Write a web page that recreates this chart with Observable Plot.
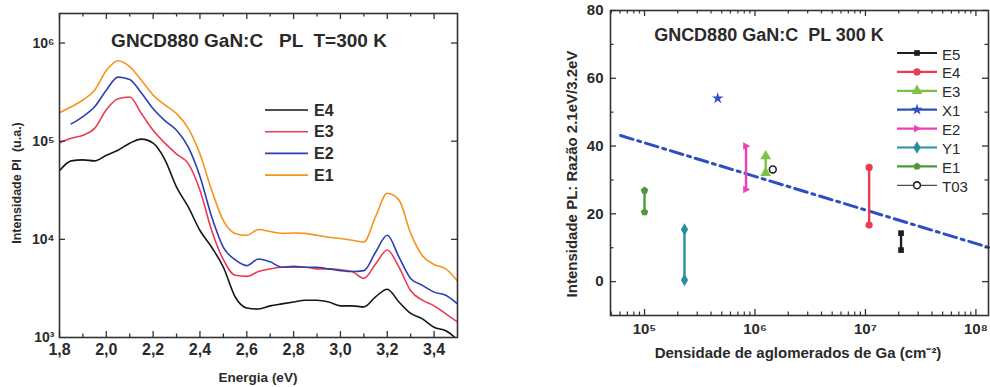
<!DOCTYPE html>
<html><head><meta charset="utf-8">
<script src="https://cdn.jsdelivr.net/npm/d3@7"></script>
<script src="https://cdn.jsdelivr.net/npm/@observablehq/plot@0.6"></script>
<style>
body{margin:0;background:#fff;width:990px;height:387px;overflow:hidden;font-family:"Liberation Sans",Arial,sans-serif;}
#root{position:relative;width:990px;height:387px;}
.panel{position:absolute;top:0;}
#overlay{position:absolute;left:0;top:0;pointer-events:none;}
</style></head><body><div id="root"></div>
<script>
// ---------- Left panel data: PL spectra ----------
const energy = [1.80,1.85,1.90,1.95,2.00,2.05,2.10,2.15,2.20,2.25,2.30,2.35,2.40,2.45,2.50,2.55,2.60,2.65,2.70,2.75,2.80,2.85,2.90,2.95,3.00,3.05,3.10,3.15,3.20,3.25,3.30,3.35,3.40,3.45,3.50];
const specNames = ["E4","E3","E2","E1"];
const intensE4 = [50000,63000,64500,63000,72000,81000,95500,105000,95500,65000,34000,21400,12300,8300,5200,2600,2000,1950,2100,2200,2300,2400,2400,2300,2100,2100,2050,2600,3100,2300,1760,1550,1270,1170,950];
const intensE3 = [96000,107000,115000,135000,209000,270000,282000,191000,129000,95500,74000,59000,31600,12300,6200,4300,4200,4700,5000,5200,5200,5200,5000,5000,4900,4700,4000,5600,7800,5200,3000,2400,2100,1740,1440];
const intensE2 = [null,150000,178000,224000,331000,450000,425000,309000,214000,162000,129000,87000,43700,17000,8300,6200,5400,6300,5900,5200,5300,5200,5200,5000,4800,4700,4800,7400,11000,6600,4000,3400,2900,2700,2200];
const intensE1 = [195000,224000,263000,331000,525000,661000,575000,417000,295000,234000,191000,135000,74000,31600,15500,11500,11000,12600,12000,11500,11600,11500,11000,10500,10200,9800,9400,17000,29500,25100,11500,6800,5550,5000,3760];
const energyTicks = [1.8,2.0,2.2,2.4,2.6,2.8,3.0,3.2,3.4];
const intensTicks = [1e3,1e4,1e5,1e6];

// ---------- Right panel data: ratio vs Ga cluster density ----------
const sampleNames = ["E5","E4","E3","X1","E2","Y1","E1","T03"];
const density   = [2.1e7,1.08e7,1.25e6,4.6e5,8.3e5,2.3e5,1.0e5,1.45e6];
const ratioLow  = [9.3,16.7,32.1,54.1,27.2,0.5,20.5,33.1];
const ratioHigh = [14.3,33.7,37.0,54.1,40.0,15.4,26.9,33.1];
const fitDensity = [6.07e4,1.3e8];
const fitRatio   = [43.1,10.1];
const ratioTicks = [0,20,40,60,80];
const densityTicks = [1e5,1e6,1e7,1e8];

// ---------- styles ----------
const specColors = {E4:"#161616",E3:"#ea3a55",E2:"#2b3fb5",E1:"#f7931e"};
const symRight = {draw(ctx,size){const r=Math.sqrt(size/Math.PI);ctx.moveTo(r*1.15,0);ctx.lineTo(-r*0.8,-r*1.05);ctx.lineTo(-r*0.8,r*1.05);ctx.closePath();}};
const symPent = {draw(ctx,size){const r=Math.sqrt(size/Math.PI)*1.1;for(let i=0;i<5;i++){const a=-Math.PI/2+i*2*Math.PI/5;const x=r*Math.cos(a),y=r*Math.sin(a);i?ctx.lineTo(x,y):ctx.moveTo(x,y);}ctx.closePath();}};
const sampleStyle = {
  E5:{color:"#1e1e1e",symbol:"square",r:3.2,lw:2.2},
  E4:{color:"#ee3b55",symbol:"circle",r:3.6,lw:2.2},
  E3:{color:"#7cc243",symbol:"triangle",r:4,lw:2.2},
  X1:{color:"#2f4fc2",symbol:"star",r:3.6,lw:2.2},
  E2:{color:"#ee40b5",symbol:symRight,r:3.6,lw:2.2},
  Y1:{color:"#2a8ea3",symbol:"diamond",r:3.8,lw:2.2},
  E1:{color:"#4c9a3c",symbol:symPent,r:3.6,lw:2.2},
  T03:{color:"#222",symbol:"circle",r:3.4,lw:1}
};
const supMap = {"-":"⁻","0":"⁰","1":"¹","2":"²","3":"³","4":"⁴","5":"⁵","6":"⁶","7":"⁷","8":"⁸","9":"⁹"};
const pow10 = d => "10" + String(Math.round(Math.log10(d))).split("").map(c=>supMap[c]).join("");
const font = "Liberation Sans, Arial, sans-serif";
const axisCol = "#333";

const root = document.getElementById("root");

// ---------- Left plot ----------
{
  const W=495,H=387,mL=59,mR=38,mT=13,mB=50;
  const iw=W-mL-mR, ih=H-mT-mB;
  const series = {E4:intensE4,E3:intensE3,E2:intensE2,E1:intensE1};
  const rows = [];
  specNames.forEach(s=>energy.forEach((e,i)=>{const v=series[s][i]; if(v!=null) rows.push({s,e,v});}));
  const minor = d3.range(1.9,3.5,0.2).map(v=>+v.toFixed(2));
  const plot = Plot.plot({
    width:W,height:H,marginLeft:mL,marginRight:mR,marginTop:mT,marginBottom:mB,
    style:{fontFamily:font,background:"transparent",color:"#2a2a2a"},
    x:{domain:[1.8,3.5]},
    y:{type:"log",domain:[1e3,2e6]},
    color:{domain:specNames,range:specNames.map(s=>specColors[s])},
    marks:[
      Plot.line(rows,{x:"e",y:"v",z:"s",stroke:"s",strokeWidth:1.6,curve:"monotone-x",clip:true}),
      Plot.tickX(energyTicks,{x:d=>d,insetTop:ih-6,stroke:axisCol,strokeWidth:1.3}),
      Plot.tickX(energyTicks,{x:d=>d,insetBottom:ih-6,stroke:axisCol,strokeWidth:1.3}),
      Plot.tickX(minor,{x:d=>d,insetTop:ih-3.5,stroke:axisCol,strokeWidth:1.3}),
      Plot.tickX(minor,{x:d=>d,insetBottom:ih-3.5,stroke:axisCol,strokeWidth:1.3}),
      Plot.tickY(intensTicks.slice(1),{y:d=>d,insetRight:iw-6,stroke:axisCol,strokeWidth:1.3}),
      Plot.tickY(intensTicks.slice(1),{y:d=>d,insetLeft:iw-6,stroke:axisCol,strokeWidth:1.3}),
      Plot.frame({stroke:axisCol,strokeWidth:1.6}),
      Plot.axisX(energyTicks,{tickSize:0,tickPadding:6,label:null,tickFormat:d=>d.toFixed(1).replace(".",","),fontSize:16,fontWeight:"bold"}),
      Plot.axisY(intensTicks,{tickSize:0,tickPadding:5,label:null,tickFormat:pow10,fontSize:14,fontWeight:"bold"})
    ]
  });
  plot.classList.add("panel"); plot.style.left="0px";
  root.appendChild(plot);
}

// ---------- Right plot ----------
{
  const W=495,H=387,mL=115,mR=2,mT=10,mB=72;
  const iw=W-mL-mR, ih=H-mT-mB;
  const pts = sampleNames.map((s,i)=>({s,d:density[i],lo:ratioLow[i],hi:ratioHigh[i]}));
  const fit = fitDensity.map((d,i)=>({d,r:fitRatio[i]}));
  const minorX = [];
  for(let e=4;e<=8;e++) for(let m=2;m<=9;m++){const v=m*10**e; if(v>4.92e4&&v<1.3e8) minorX.push(v);}
  const minorY = [10,30,50,70];
  const marks = [
    Plot.line(fit,{x:"d",y:"r",stroke:"#2d4ec4",strokeWidth:3,strokeDasharray:"13,5,3,5"}),
    Plot.link(pts.filter(p=>p.hi!==p.lo),{x1:"d",x2:"d",y1:"lo",y2:"hi",stroke:p=>sampleStyle[p.s].color,strokeWidth:2.4})
  ];
  sampleNames.forEach(s=>{
    const st=sampleStyle[s];
    const p = pts.filter(q=>q.s===s);
    const ys = p.flatMap(q=>q.hi===q.lo?[{d:q.d,y:q.lo}]:[{d:q.d,y:q.lo},{d:q.d,y:q.hi}]);
    if(s==="T03") marks.push(Plot.dot(ys,{x:"d",y:"y",r:st.r,fill:"white",stroke:st.color,strokeWidth:1.6}));
    else marks.push(Plot.dot(ys,{x:"d",y:"y",r:st.r,symbol:st.symbol,fill:st.color,stroke:"none"}));
  });
  marks.push(
    Plot.tickX(densityTicks,{x:d=>d,insetTop:ih-6,stroke:axisCol,strokeWidth:1.3}),
    Plot.tickX(densityTicks,{x:d=>d,insetBottom:ih-6,stroke:axisCol,strokeWidth:1.3}),
    Plot.tickX(minorX,{x:d=>d,insetTop:ih-3.5,stroke:axisCol,strokeWidth:1.2}),
    Plot.tickX(minorX,{x:d=>d,insetBottom:ih-3.5,stroke:axisCol,strokeWidth:1.2}),
    Plot.tickY(ratioTicks,{y:d=>d,insetRight:iw-6,stroke:axisCol,strokeWidth:1.3}),
    Plot.tickY(ratioTicks,{y:d=>d,insetLeft:iw-6,stroke:axisCol,strokeWidth:1.3}),
    Plot.tickY(minorY,{y:d=>d,insetRight:iw-3.5,stroke:axisCol,strokeWidth:1.2}),
    Plot.tickY(minorY,{y:d=>d,insetLeft:iw-3.5,stroke:axisCol,strokeWidth:1.2}),
    Plot.frame({stroke:axisCol,strokeWidth:1.6}),
    Plot.axisX(densityTicks,{tickSize:0,tickPadding:8,label:null,tickFormat:pow10,fontSize:15,fontWeight:"bold"}),
    Plot.axisY(ratioTicks,{tickSize:0,tickPadding:7,label:null,fontSize:15,fontWeight:"bold"})
  );
  const plot = Plot.plot({
    width:W,height:H,marginLeft:mL,marginRight:mR,marginTop:mT,marginBottom:mB,
    style:{fontFamily:font,background:"transparent",color:"#2a2a2a"},
    x:{type:"log",domain:[4.92e4,1.3e8]},
    y:{domain:[-10,80]},
    marks
  });
  plot.classList.add("panel"); plot.style.left="495px";
  root.appendChild(plot);
}

// ---------- Overlay: titles, axis labels, legends ----------
{
  const svg = d3.select(root).append("svg").attr("id","overlay").attr("width",990).attr("height",387)
    .style("font-family",font);
  const txt = (x,y,s,size,weight,rot,anchor) => {
    const t = svg.append("text").attr("x",x).attr("y",y).attr("font-size",size).attr("font-weight",weight||"bold")
      .attr("fill","#2a2a2a").attr("text-anchor",anchor||"middle").attr("dominant-baseline","central")
      .style("white-space","pre").attr("xml:space","preserve").text(s);
    if(rot) t.attr("transform",`rotate(${rot},${x},${y})`);
    return t;
  };
  // left
  txt(249,40,"GNCD880 GaN:C   PL  T=300 K",19,"bold");
  txt(17,183,"Intensidade Pl  (u.a.)",12.5,"bold",-90);
  txt(258,377,"Energia (eV)",13.5,"bold");
  specNames.forEach((s,i)=>{
    const y = 110 + i*21.7;
    svg.append("line").attr("x1",265).attr("x2",308).attr("y1",y).attr("y2",y).attr("stroke",specColors[s]).attr("stroke-width",1.6);
    txt(314,y,s,16,"bold",0,"start");
  });
  // right
  txt(769,35,"GNCD880 GaN:C  PL 300 K",18,"bold");
  txt(571,174,"Intensidade PL: Razão 2.1eV/3.2eV",15,"bold",-90);
  txt(798,352,"Densidade de aglomerados de Ga (cm⁻²)",15,"bold");
  sampleNames.forEach((s,i)=>{
    const st = sampleStyle[s];
    const y = 53 + i*18.9;
    svg.append("line").attr("x1",897).attr("x2",937).attr("y1",y).attr("y2",y).attr("stroke",st.color).attr("stroke-width",s==="T03"?1:2.2);
    if(s==="T03"){
      svg.append("circle").attr("cx",917).attr("cy",y).attr("r",3.4).attr("fill","white").attr("stroke",st.color).attr("stroke-width",1.6);
    } else {
      const type = typeof st.symbol==="string" ? Plot.symbol ? null : null : st.symbol;
      const map = {square:d3.symbolSquare,circle:d3.symbolCircle,triangle:d3.symbolTriangle,star:d3.symbolStar,diamond:d3.symbolDiamond};
      const sym = typeof st.symbol==="string" ? map[st.symbol] : st.symbol;
      svg.append("path").attr("transform",`translate(917,${y})`)
        .attr("d",d3.symbol(sym, st.r*st.r*Math.PI)()).attr("fill",st.color);
    }
    txt(942,y+1,s,15,"normal",0,"start");
  });
}
</script>
</body></html>
